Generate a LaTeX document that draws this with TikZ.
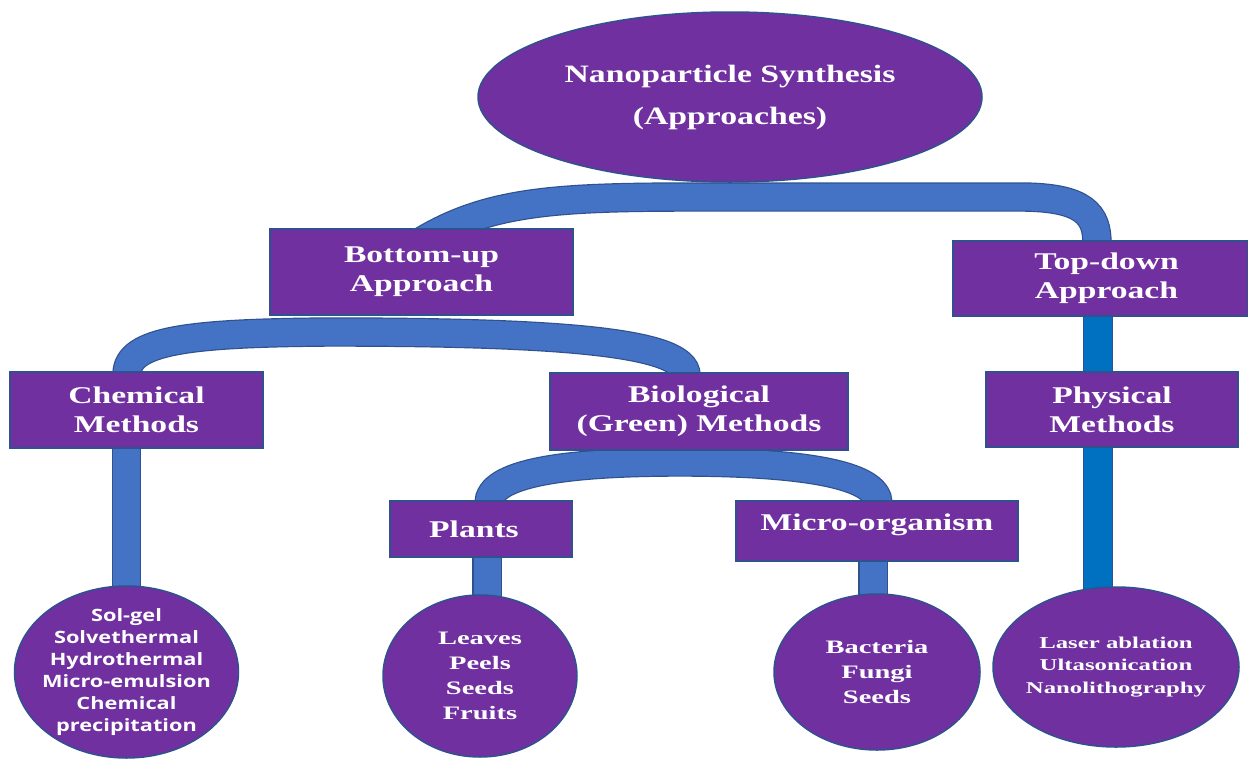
\documentclass[tikz,border=0pt]{standalone}
\usepackage{fontspec}
\newfontfamily\tbf{Liberation Serif}[FakeStretch=1.35]
\newfontfamily\tbb{Liberation Serif}[FakeStretch=1.4]
\newfontfamily\tbw{Liberation Serif}[FakeStretch=1.5]
\newfontfamily\sbf{Open Sans}[FakeStretch=1.28]
\usetikzlibrary{shapes.geometric,backgrounds}
\definecolor{purp}{HTML}{7030A0}
\definecolor{edgeblue}{HTML}{2F528F}
\definecolor{bandblue}{HTML}{4472C4}
\definecolor{barblue}{HTML}{0070C0}
\tikzset{
  box/.style={rectangle, fill=purp, draw=edgeblue, line width=1.2pt, text=white,
    align=center, inner sep=0pt, font=\tbb\bfseries\fontsize{24}{29}\selectfont},
  oval/.style={ellipse, fill=purp, draw=edgeblue, line width=1.5pt, text=white,
    align=center, inner sep=-14pt},
  bandline/.style={draw=edgeblue, line width=1.2pt, double=bandblue, double distance=27pt},
  barline/.style={draw=edgeblue, line width=1.2pt, double=barblue, double distance=27.5pt},
}
\begin{document}
\begin{tikzpicture}[x=1pt,y=-1pt]
\useasboundingbox (0,0) rectangle (1248,758);

% top ellipse
\node[oval, minimum width=504pt, minimum height=170pt,
  font=\tbf\bfseries\fontsize{25}{42}\selectfont] (root) at (730,97)
  {Nanoparticle Synthesis\\(Approaches)};

% boxes
\node[box, minimum width=303pt, minimum height=86pt] (bu) at (421.5,272) {Bottom-up\\Approach};
\node[box, minimum width=295pt, minimum height=75pt] (td) at (1100.5,278.5) {\hspace*{12pt}Top-down\\\hspace*{12pt}Approach};
\node[box, minimum width=252pt, minimum height=75pt] (phys) at (1112,409.5) {Physical\\Methods};
\node[box, minimum width=253pt, minimum height=76pt] (chem) at (136.5,410) {Chemical\\Methods};
\node[box, minimum width=298pt, minimum height=77pt] (bio) at (699,411.5) {Biological\\(Green) Methods};
\node[box, minimum width=182pt, minimum height=56pt] (plants) at (481,529) {Plants\hspace*{14pt}};
\node[box, minimum width=282pt, minimum height=60pt, text height=17pt, text depth=19pt] (micro) at (877,531) {Micro-organism};

% circles
\node[oval, minimum width=224pt, minimum height=172pt,
  font=\sbf\bfseries\fontsize{17}{22}\selectfont] (solgel) at (126.5,672)
  {Sol-gel\\Solvethermal\\Hydrothermal\\Micro-emulsion\\Chemical\\precipitation};
\node[oval, minimum width=194pt, minimum height=162pt,
  font=\tbw\bfseries\fontsize{19}{25}\selectfont] (leaves) at (480,676)
  {Leaves\\Peels\\Seeds\\Fruits};
\node[oval, minimum width=206pt, minimum height=156pt,
  font=\tbw\bfseries\fontsize{19}{25}\selectfont] (bact) at (877,672)
  {Bacteria\\Fungi\\Seeds};
\node[oval, minimum width=246pt, minimum height=160pt,
  font=\tbw\bfseries\fontsize{16.5}{22.5}\selectfont] (laser) at (1116,667)
  {Laser ablation\\Ultasonication\\Nanolithography};

% connectors
\begin{pgfonlayer}{background}
\fill[white] (0,0) rectangle (1248,758);
\draw[bandline] ([xshift=0pt,yshift=-13pt]bu.north)
  .. controls (490,200) and (560,197) .. (700,197) -- (1020,197)
  .. controls (1085,197) and (1097,215) .. ([xshift=-3.5pt,yshift=-3pt]td.north);
\draw[bandline] ([xshift=-9.5pt,yshift=-3pt]chem.north)
  .. controls (127,340) and (190,333) .. (330,332)
  .. controls (560,332) and (686,342) .. ([xshift=-13pt,yshift=-3pt]bio.north);
\draw[bandline] ([xshift=8pt,yshift=-3pt]plants.north)
  .. controls (489,474) and (560,462) .. (680,462)
  .. controls (800,462) and (878,474) .. ([xshift=1pt,yshift=-3pt]micro.north);
\draw[bandline] (chem.south -| solgel.north) -- ([yshift=-6pt]solgel.north);
\draw[bandline] ([xshift=7pt]leaves.north |- plants.south) -- ([xshift=7pt,yshift=-6pt]leaves.north);
\draw[bandline] ([xshift=-4pt]bact.north |- micro.south) -- ([xshift=-4pt,yshift=-6pt]bact.north);
\draw[barline] ([xshift=-2.5pt]td.south) -- ([xshift=-2.5pt,yshift=-6pt]td.south |- laser.north);
\end{pgfonlayer}
\end{tikzpicture}
\end{document}
